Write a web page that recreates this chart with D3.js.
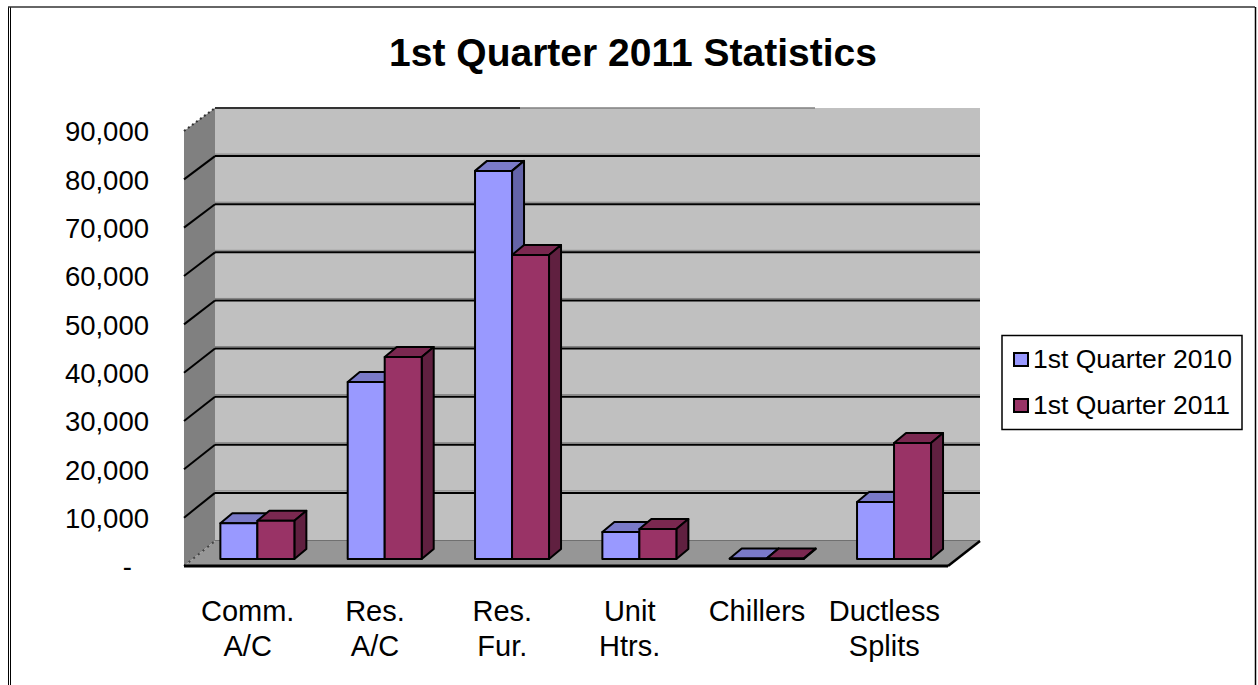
<!DOCTYPE html>
<html>
<head>
<meta charset="utf-8">
<script src="https://d3js.org/d3.v7.min.js"></script>
<style>
  body { margin: 0; background: #fff; }
  text { font-family: "Liberation Sans", Arial, sans-serif; fill: #000; }
</style>
</head>
<body>
<svg id="chart"></svg>
<script>
// Values
const categories = [["Comm.", "A/C"], ["Res.", "A/C"], ["Res.", "Fur."], ["Unit", "Htrs."], ["Chillers"], ["Ductless", "Splits"]];
const seriesNames = ["1st Quarter 2010", "1st Quarter 2011"];
const values2010 = [7400, 36600, 80300, 5600, 100, 11800];
const values2011 = [7900, 41800, 62900, 6200, 100, 24000];
const yTicks = [0, 10000, 20000, 30000, 40000, 50000, 60000, 70000, 80000, 90000];

const fills = ["#9999ff", "#993366"];
const topFills = ["#7a7ac8", "#7a2850"];
const sideFills = ["#6464a8", "#602040"];

const dimensions = {
  width: 1258,
  height: 685,
  frontLeft: 184,
  frontRight: 948,
  frontBottom: 566,
  frontTop: 131,
  backBottom: 541,
  backTop: 108,
  wallDx: 31,
  barShiftX: 9.7,
  barShiftY: 7,
  barDx: 12,
  barDy: 10
};

const svg = d3.select("#chart")
    .attr("width", dimensions.width)
    .attr("height", dimensions.height)
    .style("display", "block");

const x = d3.scaleBand()
    .domain(d3.range(categories.length))
    .range([dimensions.frontLeft, dimensions.frontRight]);

const seriesX = d3.scaleBand()
    .domain(d3.range(seriesNames.length))
    .range([x.bandwidth() / 2 - 37, x.bandwidth() / 2 + 37]);

// Front edge of the box
const y = d3.scaleLinear()
    .domain([0, 90000])
    .range([dimensions.frontBottom, dimensions.frontTop]);

// Back wall of the box, slightly shorter than the front
const backY = d3.scaleLinear()
    .domain([0, 90000])
    .range([dimensions.backBottom, dimensions.backTop]);

const polygon = (points, fill, stroke, width) => svg.append("polygon")
    .attr("points", points.map(p => p.join(",")).join(" "))
    .attr("fill", fill)
    .attr("stroke", stroke || "none")
    .attr("stroke-width", width || 0)
    .attr("stroke-linejoin", "round");

const line = (x1, y1, x2, y2, stroke, width, dash) => svg.append("line")
    .attr("x1", x1).attr("y1", y1).attr("x2", x2).attr("y2", y2)
    .attr("stroke", stroke)
    .attr("stroke-width", width)
    .attr("stroke-dasharray", dash || null);

// Outer frame
line(8.5, 7, 8.5, 685, "#000", 1);
line(10.5, 7, 10.5, 685, "#000", 1);
line(8, 7, 1255, 7, "#333", 1.5);
line(1255.5, 7, 1255.5, 685, "#000", 1.5);

// Title
svg.append("text")
    .attr("x", 633)
    .attr("y", 66)
    .attr("text-anchor", "middle")
    .attr("font-weight", "bold")
    .style("font-size", "39px")
    .text("1st Quarter 2011 Statistics");

// 3D box: walls and floor
const { frontLeft, frontRight, wallDx } = dimensions;
const backLeft = frontLeft + wallDx;
const backRight = frontRight + wallDx + 1;

polygon([[backLeft, backY(90000)], [backRight, backY(90000)], [backRight, backY(0)], [backLeft, backY(0)]], "#c0c0c0");
polygon([[frontLeft, y(90000)], [backLeft, backY(90000)], [backLeft, backY(0)], [frontLeft, y(0)]], "#808080");
polygon([[frontLeft, y(0)], [backLeft, backY(0)], [backRight, backY(0)], [frontRight, y(0)]], "#969696");

// Gridlines on the back wall and their slants on the left wall
yTicks.forEach(t => {
  if (t === 0) {
    line(backLeft, backY(t) - 0.5, backRight, backY(t) - 0.5, "#707070", 1);
    line(frontLeft, y(t), backLeft, backY(t), "#444", 2, "2 4");
    return;
  }
  if (t === 90000) {
    line(backLeft, backY(t), 520, backY(t), "#333", 2);
    line(520, backY(t), backRight - 165, backY(t), "#808080", 1.5);
    line(frontLeft, y(t), backLeft, backY(t), "#333", 2, "2 3");
    return;
  }
  line(backLeft, backY(t) - 2, backRight, backY(t) - 2, "#808080", 1);
  line(backLeft, backY(t), backRight, backY(t), "#000", 2);
  line(frontLeft, y(t), backLeft, backY(t), "#000", 2);
});

// Front edge and right floor edge
line(frontLeft, y(0), frontRight, y(0), "#000", 3);
line(frontRight, y(0), backRight, backY(0), "#000", 2.5);

// Bars, each standing a little way into the floor
const { barShiftX, barShiftY, barDx, barDy } = dimensions;

function drawBar(i, s, value) {
  const left = x(i) + seriesX(s) + barShiftX;
  const right = left + seriesX.bandwidth();
  const base = y(0) - barShiftY;
  const top = y(value) - barShiftY;
  polygon([[left, top], [left + barDx, top - barDy], [right + barDx, top - barDy], [right, top]], topFills[s], "#000", 2);
  polygon([[right, top], [right + barDx, top - barDy], [right + barDx, base - barDy], [right, base]], sideFills[s], "#000", 2);
  polygon([[left, top], [right, top], [right, base], [left, base]], fills[s], "#000", 2);
}

categories.forEach((c, i) => {
  drawBar(i, 0, values2010[i]);
  drawBar(i, 1, values2011[i]);
});

// Value axis labels
const yAxis = d3.axisLeft(y)
    .tickValues(yTicks)
    .tickSize(0)
    .tickPadding(35)
    .tickFormat(d => d === 0 ? "-" : d3.format(",")(d));

svg.append("g")
    .attr("transform", `translate(${frontLeft}, 1)`)
    .call(yAxis)
    .call(g => g.select(".domain").remove())
    .call(g => g.selectAll("text")
        .attr("fill", "#000")
        .style("font-family", '"Liberation Sans", Arial, sans-serif')
        .style("font-size", "27.5px")
        .attr("dx", d => d === 0 ? -17 : 0));

// Category labels
categories.forEach((c, i) => {
  const label = svg.append("text")
      .attr("y", 621)
      .attr("text-anchor", "middle")
      .style("font-size", "29px");
  c.forEach((part, j) => {
    label.append("tspan")
        .attr("x", x(i) + x.bandwidth() / 2)
        .attr("dy", j === 0 ? 0 : 35)
        .text(part);
  });
});

// Legend
svg.append("rect")
    .attr("x", 1002)
    .attr("y", 335.5)
    .attr("width", 240)
    .attr("height", 94)
    .attr("fill", "#fff")
    .attr("stroke", "#000")
    .attr("stroke-width", 1.5);

seriesNames.forEach((name, s) => {
  const rowY = 359 + s * 46;
  svg.append("rect")
      .attr("x", 1014)
      .attr("y", rowY - 6)
      .attr("width", 14)
      .attr("height", 13)
      .attr("fill", fills[s])
      .attr("stroke", "#000")
      .attr("stroke-width", 2);
  svg.append("text")
      .attr("x", 1033)
      .attr("y", rowY + 9)
      .style("font-size", "26.5px")
      .text(name);
});
</script>
</body>
</html>
